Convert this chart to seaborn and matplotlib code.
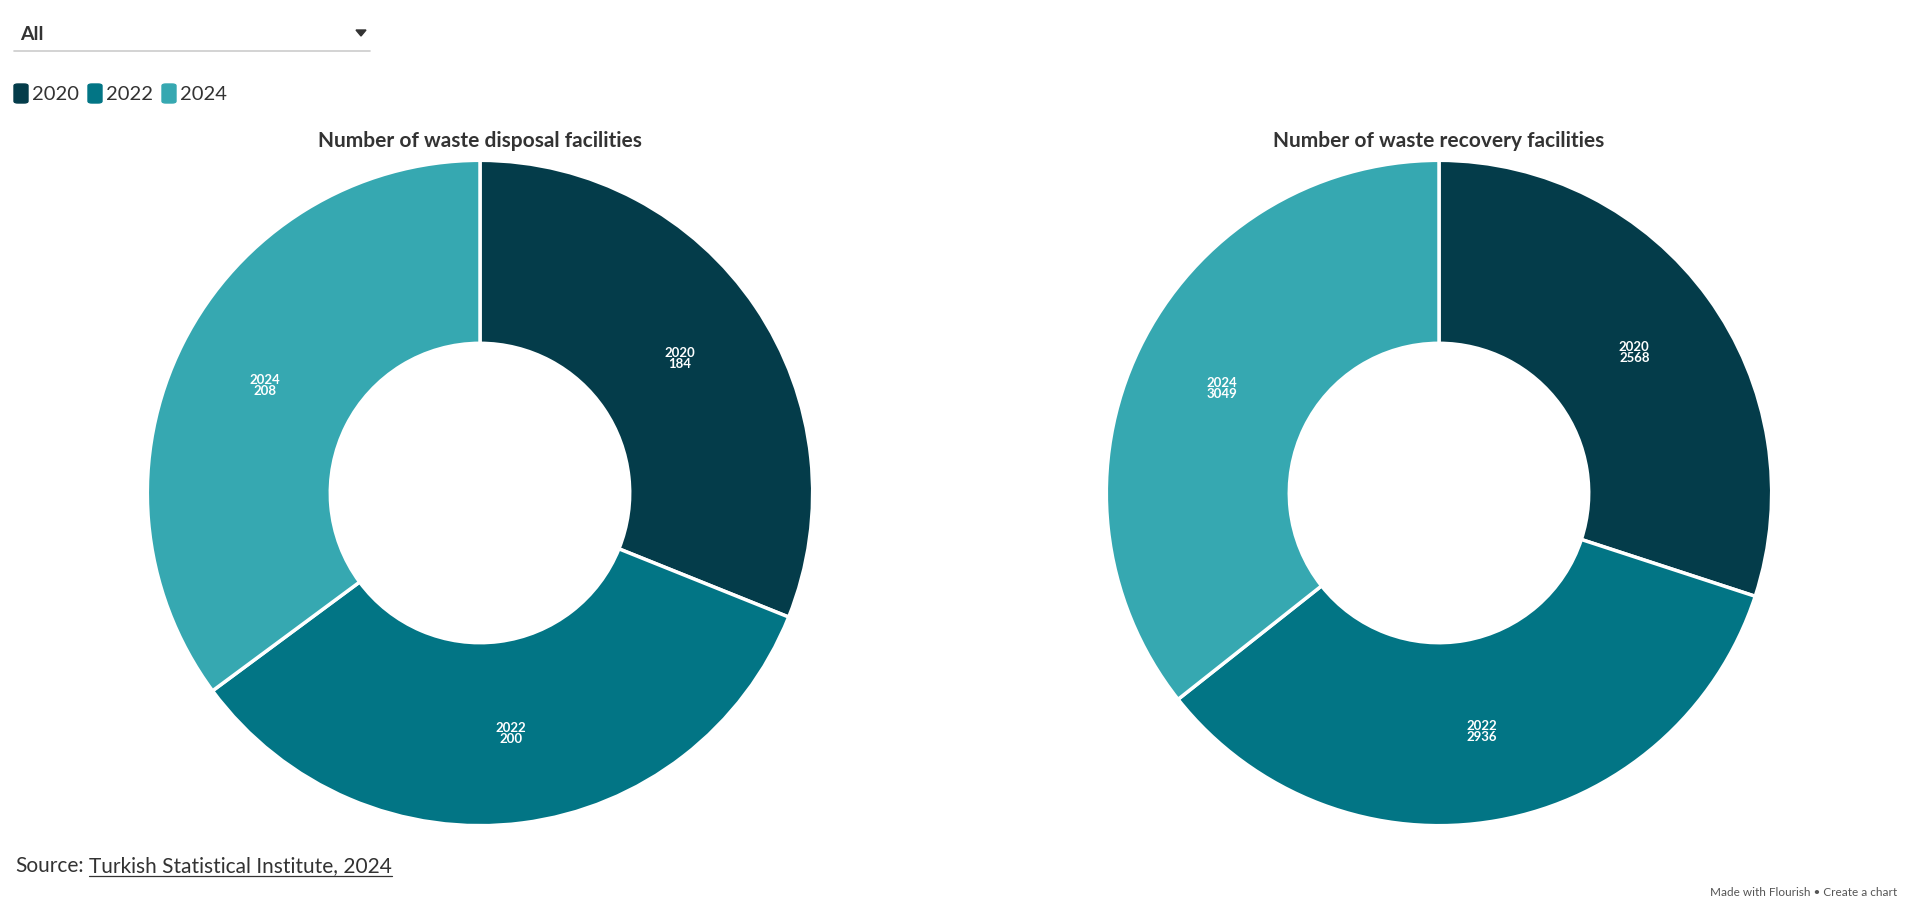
import matplotlib
matplotlib.use("Agg")
import matplotlib.pyplot as plt
import seaborn as sns
import numpy as np

years = ["2020", "2022", "2024"]
disposal = [184, 200, 208]
recovery = [2568, 2936, 3049]
titles = ["Number of waste disposal facilities", "Number of waste recovery facilities"]
colors = ["#043c4a", "#027585", "#36a8b1"]

sns.set_theme(style="white")
plt.rcParams['font.family'] = ['Lato', 'DejaVu Sans']

W, H = 1920, 920
fig = plt.figure(figsize=(W / 100, H / 100), dpi=100)
fig.patch.set_facecolor("white")

def donut(cx, data, title):
    r = 336
    cy = 494
    ax = fig.add_axes([(cx - r) / W, (H - cy - r) / H, 2 * r / W, 2 * r / H])
    ax.pie(data, colors=colors, startangle=90, counterclock=False, radius=1.0,
           wedgeprops=dict(width=0.55, edgecolor="white", linewidth=2.5))
    total = sum(data)
    start = 90.0
    for y, v in zip(years, data):
        ang = start - 360 * v / total / 2
        start -= 360 * v / total
        rr = 0.725
        ax.text(rr * np.cos(np.radians(ang)), rr * np.sin(np.radians(ang)), f"{y}\n{v}",
                ha="center", va="center", color="white",
                fontsize=9.5, fontweight="bold", linespacing=0.9)
    ax.set_xlim(-1.01, 1.01)
    ax.set_ylim(-1.01, 1.01)
    ax.set_aspect("equal")
    ax.axis("off")
    fig.text(cx / W, 1 - 141 / H, title, ha="center", va="center",
             fontsize=15, fontweight="bold", color="#333333")

donut(480, disposal, titles[0])
donut(1439, recovery, titles[1])

# dropdown
fig.text(20 / W, 1 - 34 / H, "All", ha="left", va="center", fontsize=14,
         fontweight="bold", color="#333333")
fig.add_artist(plt.Line2D([14 / W, 370 / W], [1 - 52 / H, 1 - 52 / H],
                          color="#cccccc", linewidth=1.2))
fig.add_artist(plt.Polygon([[356 / W, 1 - 31 / H], [366 / W, 1 - 31 / H], [361 / W, 1 - 37 / H]],
                           closed=True, color="#333333"))

# legend
lx = 14
for y, c in zip(years, colors):
    fig.add_artist(matplotlib.patches.FancyBboxPatch((lx / W, 1 - 104 / H), 14 / W, 19 / H,
                   boxstyle="round,pad=0,rounding_size=0.002", color=c, transform=fig.transFigure))
    fig.text((lx + 18) / W, 1 - 95 / H, y, ha="left", va="center", fontsize=14.5, color="#333333")
    lx += 74

fig.text(15 / W, 1 - 866 / H, "Source:", ha="left", va="center", fontsize=15, color="#333333")
src = fig.text(89 / W, 1 - 866 / H, "Turkish Statistical Institute, 2024", ha="left", va="center",
               fontsize=15, color="#333333")
fig.canvas.draw()
bb = src.get_window_extent(renderer=fig.canvas.get_renderer())
fig.add_artist(plt.Line2D([bb.x0 / W, bb.x1 / W], [1 - 877 / H, 1 - 877 / H],
                          color="#333333", linewidth=0.9))
fig.text(1897 / W, 1 - 893 / H, "Made with Flourish • Create a chart", ha="right", va="center",
         fontsize=8.5, color="#555555")

fig.savefig("out.png", dpi=100, facecolor="white")
